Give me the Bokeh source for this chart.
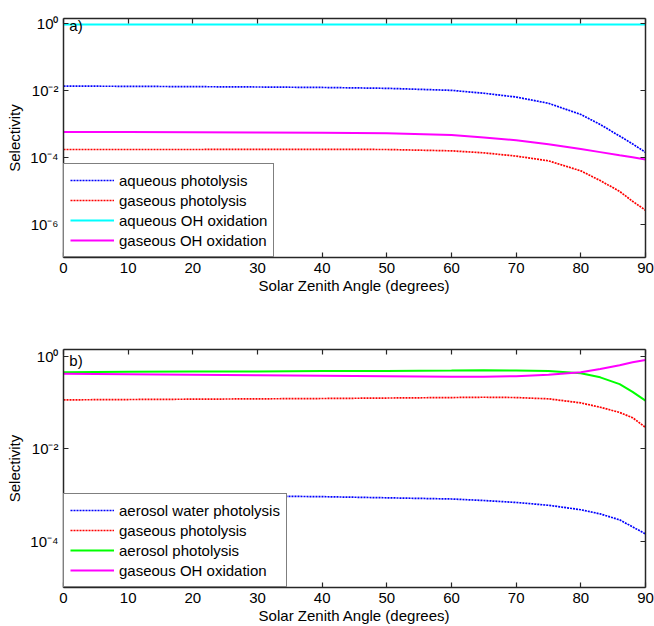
from bokeh.plotting import figure
from bokeh.models import (FixedTicker, CustomJSTickFormatter, LinearAxis, LogAxis,
                          Label, Range1d)
from bokeh.layouts import column
from bokeh.embed import file_html
from bokeh.resources import INLINE

# ---------------- data ----------------
sza = [0, 10, 20, 30, 40, 50, 60, 65, 70, 75, 80, 83, 86, 88, 90]

# panel a)
a_aq_photolysis = [0.0134, 0.0132, 0.0129, 0.0126, 0.0122, 0.0115, 0.0100, 0.0082,
                   0.0063, 0.0041, 0.0019, 0.00095, 0.00043, 0.00025, 0.00014]
a_gas_photolysis = [1.7e-4, 1.7e-4, 1.7e-4, 1.72e-4, 1.72e-4, 1.7e-4, 1.55e-4, 1.35e-4,
                    1.08e-4, 7.8e-5, 3.9e-5, 2.0e-5, 9.5e-6, 4.8e-6, 2.6e-6]
a_aq_oh = [0.93, 0.93, 0.93, 0.93, 0.93, 0.93, 0.93, 0.93,
           0.93, 0.93, 0.93, 0.93, 0.93, 0.93, 0.93]
a_gas_oh = [5.7e-4, 5.65e-4, 5.6e-4, 5.5e-4, 5.4e-4, 5.2e-4, 4.6e-4, 3.9e-4,
            3.2e-4, 2.45e-4, 1.75e-4, 1.42e-4, 1.15e-4, 1.0e-4, 8.5e-5]

# panel b)
b_aer_water_photolysis = [1.02e-3, 1.0e-3, 9.8e-4, 9.5e-4, 9.2e-4, 8.7e-4, 8.2e-4, 7.6e-4,
                          6.9e-4, 6.0e-4, 4.8e-4, 3.9e-4, 2.9e-4, 2.05e-4, 1.44e-4]
b_gas_photolysis = [0.114, 0.116, 0.118, 0.12, 0.122, 0.125, 0.128, 0.13,
                    0.128, 0.12, 0.098, 0.079, 0.061, 0.047, 0.029]
b_aer_photolysis = [0.45, 0.46, 0.47, 0.47, 0.48, 0.48, 0.49, 0.50,
                    0.49, 0.48, 0.43, 0.35, 0.25, 0.17, 0.11]
b_gas_oh = [0.42, 0.41, 0.40, 0.39, 0.38, 0.37, 0.36, 0.36,
            0.37, 0.40, 0.45, 0.53, 0.64, 0.74, 0.83]

x_ticks = [0, 10, 20, 30, 40, 50, 60, 70, 80, 90]
a_y_ticks = [1e-6, 1e-4, 1e-2, 1.0]
b_y_ticks = [1e-4, 1e-2, 1.0]

FONT = "Liberation Sans"
AX_COLOR = "#262626"

log_fmt_code = """
const e = Math.round(Math.log10(tick));
const sup = {'0':'\\u2070','1':'\\u00b9','2':'\\u00b2','3':'\\u00b3','4':'\\u2074',
             '5':'\\u2075','6':'\\u2076','7':'\\u2077','8':'\\u2078','9':'\\u2079','-':'\\u207b'};
return '10' + String(e).split('').map(c => sup[c]).join('');
"""


def style_axis(ax, labels=True):
    ax.axis_line_color = AX_COLOR
    ax.axis_line_width = 1.5
    ax.major_tick_line_color = AX_COLOR
    ax.major_tick_line_width = 1.2
    ax.major_tick_in = 5
    ax.major_tick_out = 0
    ax.minor_tick_in = 0
    ax.minor_tick_out = 0
    ax.major_label_text_font = FONT
    ax.major_label_text_font_size = "15px" if labels else "0px"
    ax.major_label_text_color = "black"
    ax.axis_label_text_font = FONT
    ax.axis_label_text_font_size = "15px"
    ax.axis_label_text_font_style = "normal"
    ax.axis_label_text_color = "black"


def make_panel(height, border_top, border_bottom, y_range, y_ticks, series, tag, tag_y):
    p = figure(width=654, height=height, y_axis_type="log",
               x_range=Range1d(0, 90), y_range=Range1d(*y_range),
               output_backend="svg", toolbar_location=None,
               min_border_left=63, min_border_right=9,
               min_border_top=border_top, min_border_bottom=border_bottom)
    p.background_fill_color = "white"
    p.border_fill_color = "white"
    p.outline_line_color = None
    p.grid.visible = False

    p.xaxis.ticker = FixedTicker(ticks=x_ticks)
    p.yaxis.ticker = FixedTicker(ticks=y_ticks)
    p.yaxis.formatter = CustomJSTickFormatter(code=log_fmt_code)
    p.xaxis.axis_label = "Solar Zenith Angle (degrees)"
    p.yaxis.axis_label = "Selectivity"
    for ax in p.xaxis + p.yaxis:
        style_axis(ax)
    p.xaxis.major_label_standoff = 5
    p.xaxis.axis_label_standoff = 1
    p.yaxis.major_label_standoff = 5
    p.yaxis.axis_label_standoff = 4

    top = LinearAxis(ticker=FixedTicker(ticks=x_ticks),
                     formatter=CustomJSTickFormatter(code="return ''"))
    right = LogAxis(ticker=FixedTicker(ticks=y_ticks),
                    formatter=CustomJSTickFormatter(code="return ''"))
    for ax in (top, right):
        style_axis(ax, labels=False)
        ax.major_label_standoff = 0
    p.add_layout(top, "above")
    p.add_layout(right, "right")

    for label, ys, color, dotted in series:
        if dotted:
            p.line(sza, ys, line_color=color, line_width=1.7, line_dash="2 1",
                   legend_label=label)
        else:
            p.line(sza, ys, line_color=color, line_width=2.0, legend_label=label)

    p.add_layout(Label(x=0.9, y=tag_y, text=tag, text_font=FONT,
                       text_font_size="15px", text_baseline="middle",
                       text_color="black"))

    lg = p.legend[0]
    lg.location = "bottom_left"
    lg.margin = 0
    lg.padding = 6
    lg.spacing = 0
    lg.label_height = 20
    lg.glyph_height = 20
    lg.glyph_width = 44
    lg.label_standoff = 5
    lg.label_text_font = FONT
    lg.label_text_font_size = "15px"
    lg.label_text_color = "black"
    lg.border_line_color = "black"
    lg.border_line_width = 1.5
    lg.background_fill_color = "white"
    lg.background_fill_alpha = 1.0
    return p


p1 = make_panel(310, 18, 53, (1e-7, 1.41), a_y_ticks, [
    ("aqueous photolysis", a_aq_photolysis, "#0000ff", True),
    ("gaseous photolysis", a_gas_photolysis, "#ff0000", True),
    ("aqueous OH oxidation", a_aq_oh, "#00ffff", False),
    ("gaseous OH oxidation", a_gas_oh, "#ff00ff", False),
], "a)", 0.87)

p2 = make_panel(316, 39, 39, (1e-5, 1.40), b_y_ticks, [
    ("aerosol water photolysis", b_aer_water_photolysis, "#0000ff", True),
    ("gaseous photolysis", b_gas_photolysis, "#ff0000", True),
    ("aerosol photolysis", b_aer_photolysis, "#00ff00", False),
    ("gaseous OH oxidation", b_gas_oh, "#ff00ff", False),
], "b)", 0.81)

layout = column(p1, p2, spacing=0)
open("out.html", "w", encoding="utf-8").write(file_html(layout, INLINE))
